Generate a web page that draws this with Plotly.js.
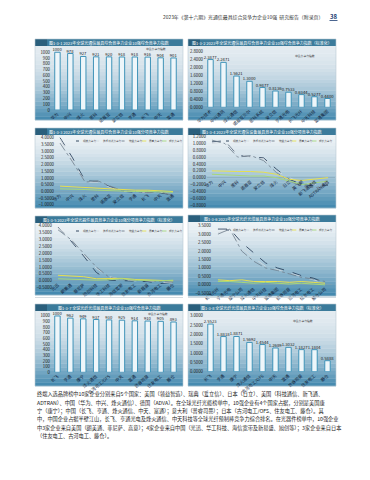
<!DOCTYPE html>
<html><head><meta charset="utf-8">
<script src="https://cdn.plot.ly/plotly-3.0.1.min.js"></script>
<style>html,body{margin:0;padding:0;background:#fff;}#c{width:370px;height:480px;}</style>
</head><body><div id="c"></div>
<script>
// ---------- DATA ----------
const catP1 = ['华为','中兴','烽火','思科','诺基亚','爱立信','亨通','长飞','中天','富通'];
const valP1 = [1000, 978, 927, 921, 920, 918, 918, 916, 904, 901];

const catP2 = ['华为技术','中兴通讯','烽火通信','诺基亚贝尔','思科系统','爱立信','亨通光电','长飞光纤','中天科技','富通集团'];
const valP2 = [2.3877, 2.2471, 1.5621, 1.3000, 0.9877, 0.8136, 0.7533, 0.6344, 0.5277, 0.4400];

const catP3 = ['华为','中兴','烽火','思科','诺基亚','爱立信','亨通','长飞','中天','富通'];
const p3s1 = [4.00, 2.50, 0.80, 0.75, 0.35, 0.02, -0.05, -0.10, -0.10, -0.25];
const p3s2 = [3.90, 2.30, 0.70, 0.70, 0.30, 0.00, 0.00, -0.10, -0.05, -0.20];
const p3s3 = [3.60, 2.20, 0.70, 0.80, 0.40, 0.05, 0.00, -0.10, 0.00, -0.30];
const p3s4 = [0.40, 0.35, 0.25, 0.20, 0.15, 0.10, 0.10, 0.10, 0.05, 0.00];
const p3s5 = [0.20, 0.20, 0.15, 0.10, 0.05, 0.05, 0.00, 0.00, 0.00, -0.05];

const catP4 = ['华为','中兴','思科','诺基亚','爱立信','烽火','日立','英飞朗','新飞通通信','ADTRAN通信'];
const p4s1 = [1.05, 1.08, 0.65, 0.62, 0.58, 0.25, -0.05, -0.20, -0.25, -0.22];
const p4s2 = [1.00, 1.05, 0.70, 0.60, 0.55, 0.20, 0.00, -0.15, -0.20, -0.15];
const p4s3 = [1.10, 1.00, 0.60, 0.65, 0.50, 0.15, -0.10, -0.25, -0.30, -0.20];
const p4s4 = [0.20, 0.18, 0.18, 0.18, 0.16, 0.10, -0.05, -0.08, -0.05, 0.00];
const p4s5 = [0.10, 0.08, 0.05, 0.05, 0.05, 0.00, -0.10, -0.20, -0.15, -0.10];

const catP5 = ['光迅','朗美通','菲尼萨','旭创科技','华工科技','海信宽带','住友电工','新易盛','古河电工','藤仓'];
const p5s1 = [3.90, 2.90, 1.80, 0.60, 0.05, 0.02, 0.00, -0.05, -0.20, -0.10];
const p5s2 = [3.85, 3.10, 1.90, 0.90, 0.30, 0.10, 0.00, 0.00, -0.10, -0.15];
const p5s3 = [3.70, 3.00, 2.00, 1.00, 0.25, 0.10, 0.05, 0.00, -0.05, -0.10];
const p5s4 = [0.40, 0.35, 0.30, 0.15, 0.15, 0.18, 0.10, 0.05, 0.05, 0.00];
const p5s5 = [0.15, 0.12, 0.10, 0.05, 0.08, 0.15, 0.05, 0.00, 0.00, 0.05];

const catP6 = ['长飞光纤','亨通光电','康宁公司','烽火通信','中天科技','富通集团','普睿司曼','古河电工','住友电工','藤仓公司'];
const p6s1 = [3.30, 3.30, 2.50, 1.90, 1.30, 1.00, 0.80, 0.55, 0.40, 0.15];
const p6s2 = [3.10, 3.20, 2.20, 1.60, 1.10, 0.90, 0.70, 0.50, 0.30, 0.10];
const p6s3 = [3.00, 3.30, 2.00, 1.40, 1.00, 0.85, 0.65, 0.45, 0.35, 0.20];
const p6s4 = [0.30, 0.25, 0.30, 0.20, 0.20, 0.20, 0.15, 0.20, 0.15, 0.10];
const p6s5 = [0.20, 0.20, 0.15, 0.10, 0.15, 0.10, 0.05, 0.10, 0.05, 0.00];

const catP7 = ['长飞','亨通','康宁','烽火通信','古河电工/OFS','中天','富通','普睿司曼','住友电工','藤仓'];
const valP7 = [1000, 962, 949, 937, 930, 925, 914, 910, 905, 893];
const valP8 = [2.5523, 1.8818, 1.8871, 1.5692, 1.4544, 1.2689, 1.3032, 1.1827, 1.1804, 0.5888];

const seriesNames = ['规模竞争力','技术创新竞争力','效益竞争力','质量竞争力','成长竞争力'];
const barLegend = '综合竞争力指数';

const titles = [
 '图1-3-1 2023年全球光通信最具综合竞争力企业10强综合竞争力指数',
 '图1-3-2 2023年全球光通信最具综合竞争力企业10强综合竞争力指数（标准化）',
 '图1-3-3 2023年全球光通信最具综合竞争力企业10强分项竞争力指数',
 '图1-3-4 2023年全球光通信设备最具竞争力企业10强分项竞争力指数',
 '图1-3-5 2023年全球光器件最具竞争力企业10强分项竞争力指数（标准化）',
 '图1-3-6 2023年全球光纤光缆最具竞争力企业10强分项竞争力指数',
 '图1-3-7 全球光纤光缆最具竞争力企业10强综合竞争力指数',
 '图1-3-8 全球光纤光缆最具竞争力企业10强综合竞争力指数（标准化）'
];
const headerText = '2023年《第十六期》光通信最具综合竞争力企业10强  研究报告（附录页）';
const pageNo = '38';
const bodyLines = [
 '终端入选品牌榜中10家企业分别来自5个国家：美国（领益智造）、瑞典（爱立信）、日本（日立）、美国（科技通信、新飞通、',
 'ADTRAN）、中国（华为、中兴、烽火通信）、德国（ADVA）。在全球光纤光缆榜单中，10强企业有4个国家占据，分别是美国康',
 '宁（康宁）；中国（长飞、亨通、烽火通信、中天、富通）；意大利（普睿司曼）；日本（古河电工/OFS、住友电工、藤仓）。其',
 '中，中国企业占据半壁江山，长飞、亨通光电及烽火通信、中天科技等全球光纤预制棒竞争力综合排名。在光器件榜单中，10强企业',
 '中3家企业来自美国（朗美通、菲尼萨、高意）；4家企业来自中国（光迅、华工科技、海信宽带及新易盛、旭创等）；3家企业来自日本',
 '（住友电工、古河电工、藤仓）。'
];

// ---------- LAYOUT HELPERS ----------
const W = 370, H = 480;
const dx = px => px / W;
const dy = py => 1 - py / H;
const FONT = '"Noto Sans CJK SC","Noto Sans",sans-serif';

const lineStyles = [
 {color:'#1f3550', dash:'dash', width:0.8},
 {color:'#d3d9de', dash:'dash', width:0.8},
 {color:'#6f7d8c', dash:'dashdot', width:0.8},
 {color:'#e6df4f', dash:'solid', width:1},
 {color:'#a6d67c', dash:'solid', width:1}
];

const panels = [
 {kind:'bar', cats:catP1, vals:valP1, tpl:'%{y}', fmt:'', box:[35,183,39,120], g:{x0:51,x1:180,yt:48.8,yb:110,r:[0,1060],dt:100}, leg:[156,48.6]},
 {kind:'bar', cats:catP2, vals:valP2, tpl:'%{y:.4f}', fmt:'.4f', box:[188,336,39,120], g:{x0:204,x1:334,yt:47.3,yb:107.3,r:[0,3.0],dt:0.4}, leg:[305,56]},
 {kind:'line', cats:catP3, ser:[p3s1,p3s2,p3s3,p3s4,p3s5], box:[35,183,128,208], g:{x0:55,x1:179.3,yt:136.35,yb:207,r:[-1.15,4.1],dt:0.5,xr:[-0.4,9.5]}, leg:[76,141]},
 {kind:'line', cats:catP4, ser:[p4s1,p4s2,p4s3,p4s4,p4s5], box:[188,336,128,208], g:{x0:206.8,x1:334.5,yt:135,yb:206.7,r:[-0.85,1.25],dt:0.2,xr:[-0.4,9.5]}, leg:[226,141]},
 {kind:'line', cats:catP5, ser:[p5s1,p5s2,p5s3,p5s4,p5s5], box:[35,183,216,295], g:{x0:52.9,x1:179.6,yt:223.6,yb:289.1,r:[-0.6,4.15],dt:0.5,xr:[-0.4,9.5]}, leg:[76,231]},
 {kind:'line', cats:catP6, ser:[p6s1,p6s2,p6s3,p6s4,p6s5], box:[188,336,215,296], g:{x0:212,x1:332.2,yt:224,yb:294.2,r:[-0.55,3.6],dt:0.5,xr:[-0.5,9.6]}, leg:[226,230]},
 {kind:'bar', cats:catP7, vals:valP7, tpl:'%{y}', fmt:'', box:[35,183,304,386], g:{x0:51,x1:180,yt:312.6,yb:372.3,r:[0,1060],dt:100}, leg:[158,313.6]},
 {kind:'bar', cats:catP7, vals:valP8, tpl:'%{y:.4f}', fmt:'.4f', box:[188,336,304,386], g:{x0:204,x1:334,yt:312.9,yb:371.7,r:[0,3.15],dt:0.5}, leg:[303,321]}
];

function hex2rgb(h){h=h.replace('#','');return [0,2,4].map(i=>parseInt(h.substr(i,2),16));}
function mix(c0,c1,t){const a=hex2rgb(c0),b=hex2rgb(c1);return 'rgb('+a.map((v,i)=>Math.round(v+(b[i]-v)*t)).join(',')+')';}

const data = [], shapes = [], annotations = [];
const layout = {
 width:W, height:H, margin:{l:0,r:0,t:0,b:0}, paper_bgcolor:'#ffffff', plot_bgcolor:'rgba(0,0,0,0)',
 showlegend:false, font:{family:FONT, size:5, color:'#1a1a1a'}
};

panels.forEach((p,i)=>{
 const n = i+1, xs = n===1?'':String(n);
 const xa = 'xaxis'+xs, ya = 'yaxis'+xs, xr = 'x'+xs, yr = 'y'+xs;
 const [bx0,bx1,by0,by1] = p.box;
 const g = p.g;
 // gradient body
 const N = 20, top = by0+7, bot = by1;
 const cTop = p.kind==='bar' ? '#e3ebf0' : '#edf2f5';
 const cBot = '#3f86ad';
 const pw = p.kind==='bar' ? 1.9 : 1.5;
 for(let k=0;k<N;k++){
  const t = Math.pow((k+0.5)/N, pw);
  shapes.push({type:'rect', xref:'paper', yref:'paper', layer:'below',
   x0:dx(bx0), x1:dx(bx1), y0:dy(top+(bot-top)*(k+1)/N+0.3), y1:dy(top+(bot-top)*k/N),
   fillcolor:mix(cTop,cBot,t), line:{width:0}});
 }
 // title bar
 shapes.push({type:'rect', xref:'paper', yref:'paper', layer:'below', x0:dx(bx0), x1:dx(bx1), y0:dy(by0+7), y1:dy(by0), fillcolor:'#3b7b9b', line:{width:0}});
 shapes.push({type:'rect', xref:'paper', yref:'paper', layer:'below', x0:dx(bx0), x1:dx(bx0+12), y0:dy(by0+7), y1:dy(by0), fillcolor:'#2a5f7c', line:{width:0}});
 shapes.push({type:'rect', xref:'paper', yref:'paper', layer:'above', x0:dx(bx0), x1:dx(bx1), y0:dy(by1), y1:dy(by0), fillcolor:'rgba(0,0,0,0)', line:{width:0.6,color:'#b9cbd5'}});
 annotations.push({xref:'paper', yref:'paper', x:dx((bx0+bx1)/2), y:dy(by0+3.6), text:titles[i], showarrow:false, xanchor:'center', yanchor:'middle', font:{size:4, color:'#ffffff', family:FONT}});

 layout[xa] = {domain:[dx(g.x0), dx(g.x1)], anchor:yr, type:'category', showgrid:false, zeroline:false, showline:false, ticks:'', tickangle:-40,
  tickfont:{size:4.3, color:'#12233a', family:FONT}, fixedrange:true};
 layout[ya] = {domain:[dy(g.yb), dy(g.yt)], anchor:xr, range:g.r, tick0:0, dtick:g.dt, showgrid:false, showline:false, ticks:'',
  tickfont:{size:4.3, color:'#1a1a1a', family:FONT}, fixedrange:true, zeroline:p.kind==='line', zerolinecolor:'#7f9fb0', zerolinewidth:0.5};
 if(p.kind==='line'){
  layout[ya].tickformat = '.4f';
  layout[xa].range = g.xr;
  const zeroPx = g.yt + (g.r[1]-0)/(g.r[1]-g.r[0])*(g.yb-g.yt);
  layout[xa].anchor = 'free';
  layout[xa].position = dy(zeroPx);
  p.ser.forEach((s,k)=>{
   data.push({type:'scatter', mode:'lines', x:p.cats, y:s, xaxis:xr, yaxis:yr, line:lineStyles[k], hoverinfo:'skip', cliponaxis:false});
  });
  // manual legend
  let lx = p.leg[0];
  const ly = p.leg[1], fs = 2.6;
  seriesNames.forEach((nm,k)=>{
   shapes.push({type:'line', xref:'paper', yref:'paper', x0:dx(lx), x1:dx(lx+4.5), y0:dy(ly), y1:dy(ly), line:{color:lineStyles[k].color, width:0.9, dash:lineStyles[k].dash==='solid'?'solid':'dot'}});
   annotations.push({xref:'paper', yref:'paper', x:dx(lx+5), y:dy(ly), text:nm, showarrow:false, xanchor:'left', yanchor:'middle', font:{size:fs, color:'#444', family:FONT}});
   lx += 5 + nm.length*fs + 2.2;
  });
 } else {
  layout[ya].tickformat = p.fmt;
  layout[xa].range = [-0.5, 9.5];
  data.push({type:'bar', x:p.cats, y:p.vals, xaxis:xr, yaxis:yr, width:0.42,
   marker:{color:'#eef6fa', line:{color:'#3f93b8', width:1}},
   texttemplate:p.tpl, textposition:'outside', constraintext:'none', cliponaxis:false,
   textfont:{size:4.2, color:'#1a1a1a', family:FONT}, hoverinfo:'skip'});
  annotations.push({xref:'paper', yref:'paper', x:dx(p.leg[0]), y:dy(p.leg[1]), text:barLegend, showarrow:false, xanchor:'center', yanchor:'middle', font:{size:2.8, color:'#333', family:FONT}});
 }
});

// separators under row 3
shapes.push({type:'line', xref:'paper', yref:'paper', x0:dx(35), x1:dx(183), y0:dy(297.5), y1:dy(297.5), line:{color:'#c9d3d9', width:0.8}});
shapes.push({type:'line', xref:'paper', yref:'paper', x0:dx(188), x1:dx(336), y0:dy(297.5), y1:dy(297.5), line:{color:'#c9d3d9', width:0.8}});

// header
annotations.push({xref:'paper', yref:'paper', x:dx(325), y:dy(17), text:headerText, showarrow:false, xanchor:'right', yanchor:'middle', font:{size:4.9, color:'#333', family:FONT}});
annotations.push({xref:'paper', yref:'paper', x:dx(333.5), y:dy(16.8), text:'<b>'+pageNo+'</b>', showarrow:false, xanchor:'center', yanchor:'middle', font:{size:6, color:'#1d3f73', family:FONT}});
shapes.push({type:'line', xref:'paper', yref:'paper', x0:dx(329.5), x1:dx(337.5), y0:dy(20.5), y1:dy(20.5), line:{color:'#1d3f73', width:0.8}});

// body text
const lineYs = [394.3, 402.6, 410.9, 419.2, 427.5, 435.8];
bodyLines.forEach((t,k)=>{
 annotations.push({xref:'paper', yref:'paper', x:dx(35), y:dy(lineYs[k]), text:t, showarrow:false, xanchor:'left', yanchor:'middle', font:{size:5.2, color:'#1a1a1a', family:FONT}});
});

layout.shapes = shapes;
layout.annotations = annotations;
Plotly.newPlot('c', data, layout, {staticPlot:true, displayModeBar:false});
</script></body></html>
